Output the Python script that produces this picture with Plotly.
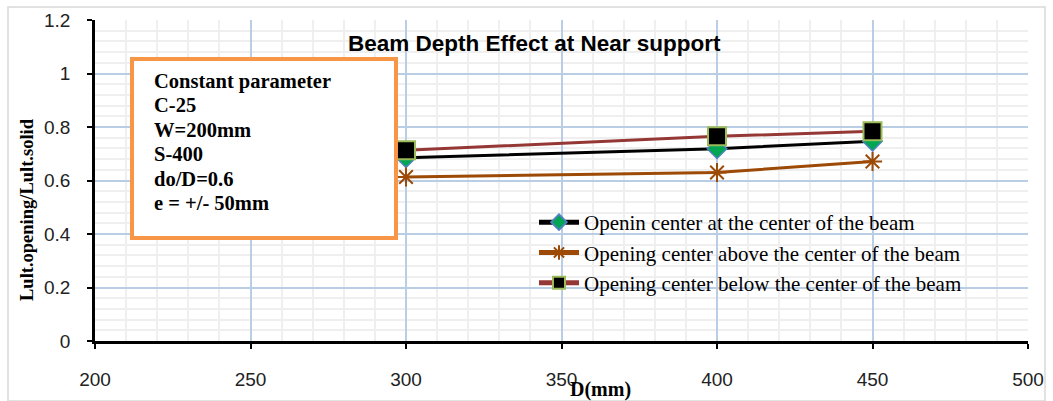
import plotly.graph_objects as go

# depth of beam D (mm) and the load ratio for each opening position
depth_mm = [300, 400, 450]
ratio_center = [0.685, 0.719, 0.747]
ratio_above = [0.613, 0.630, 0.671]
ratio_below = [0.713, 0.765, 0.784]

series_names = [
    "Openin center at the center of the beam",
    "Opening center above the center of the beam",
    "Opening center below the center of the beam",
]
box_lines = ["Constant parameter", "C-25", "W=200mm", "S-400", "do/D=0.6", "e = +/- 50mm"]

serif = "Liberation Serif, Times New Roman, serif"
sans = "Liberation Sans, Arial, sans-serif"

# plot area in pixels, used to place annotations in paper coords
L, R, T, B = 95, 1028, 20, 341
W, H = R - L, B - T


def px(x):
    return (x - L) / W


def py(y):
    return (B - y) / H


fig = go.Figure()

fig.add_trace(go.Scatter(
    x=depth_mm, y=ratio_center, name=series_names[0], mode="lines+markers",
    line=dict(color="black", width=3),
    marker=dict(symbol="diamond", size=15, color="#00A651",
                line=dict(color="#4F81BD", width=1.5)),
    legendgroup="a",
))
fig.add_trace(go.Scatter(
    x=depth_mm, y=ratio_above, name=series_names[1], mode="lines+markers",
    line=dict(color="#9C4A06", width=3),
    marker=dict(symbol="asterisk-open", size=16,
                line=dict(color="#C0504D", width=2)),
    legendgroup="b",
))
fig.add_trace(go.Scatter(
    x=depth_mm, y=ratio_below, name=series_names[2], mode="lines+markers",
    line=dict(color="#953735", width=3),
    marker=dict(symbol="square", size=18, color="black",
                line=dict(color="#9BBB59", width=2)),
    legendgroup="c",
))

fig.update_xaxes(
    range=[200, 500], dtick=50, tick0=200,
    showline=True, linecolor="black", linewidth=2.5,
    ticks="outside", ticklen=5, tickcolor="black", tickwidth=2,
    ticklabelstandoff=14,
    showgrid=True, gridcolor="#B9CDE5", gridwidth=1.5,
    minor=dict(dtick=10, showgrid=True, gridcolor="#EFEFEF", gridwidth=1.5),
    tickfont=dict(family=sans, size=19, color="#222"),
    zeroline=False, automargin=False,
)
fig.update_yaxes(
    range=[0, 1.2], dtick=0.2,
    showline=True, linecolor="black", linewidth=2.5,
    ticks="outside", ticklen=5, tickcolor="black", tickwidth=2,
    ticklabelstandoff=13,
    showgrid=True, gridcolor="#B9CDE5", gridwidth=1.5,
    minor=dict(dtick=0.04, showgrid=True, gridcolor="#EFEFEF", gridwidth=1.5),
    tickfont=dict(family=sans, size=19, color="#222"),
    zeroline=False, automargin=False,
)

fig.add_annotation(
    x=px(27), y=py(210), xref="paper", yref="paper", xanchor="center", yanchor="middle",
    text="<b>Lult.opening/Lult.solid</b>", showarrow=False, textangle=-90,
    font=dict(family=serif, size=18.5, color="black"),
)
fig.add_annotation(
    x=px(534), y=py(43), xref="paper", yref="paper", xanchor="center", yanchor="middle",
    text="<b>Beam Depth Effect at Near support</b>", showarrow=False,
    font=dict(family="Liberation Sans Narrow, Arial Narrow, sans-serif", size=22.5, color="black"),
)
fig.add_annotation(
    x=px(600), y=py(390), xref="paper", yref="paper", xanchor="center", yanchor="middle",
    text="<b>D(mm)</b>", showarrow=False,
    font=dict(family=serif, size=20, color="black"),
)

# text box with the constant parameters
fig.add_shape(type="rect", xref="paper", yref="paper",
              x0=px(132), x1=px(396), y0=py(59), y1=py(238),
              line=dict(color="#F79646", width=4), fillcolor="white", layer="above")
for i, t in enumerate(box_lines):
    fig.add_annotation(
        x=px(152), y=py(81 + 24.4 * i), xref="paper", yref="paper",
        xanchor="left", yanchor="middle", showarrow=False,
        text=f"<b>{t}</b>", font=dict(family=serif, size=20.5, color="black"),
    )

# outer chart border
fig.add_shape(type="rect", xref="paper", yref="paper",
              x0=px(8), x1=px(1045), y0=py(401), y1=py(7),
              line=dict(color="#D9D9D9", width=1.5), layer="below")

fig.update_layout(
    width=1053, height=401,
    margin=dict(l=L, r=1053 - R, t=T, b=401 - B),
    plot_bgcolor="white", paper_bgcolor="white",
    showlegend=True,
    legend=dict(
        x=px(534), y=py(202), xanchor="left", yanchor="top",
        bgcolor="rgba(255,255,255,0)", font=dict(family=serif, size=21, color="black"),
        tracegroupgap=0, traceorder="grouped", itemwidth=40, itemsizing="constant",
    ),
)

# drop the browser's default page margin so the figure sits at the top-left corner
fig.write_html("out.html", config={"displayModeBar": False},
               post_script="document.body.style.margin='0';")
